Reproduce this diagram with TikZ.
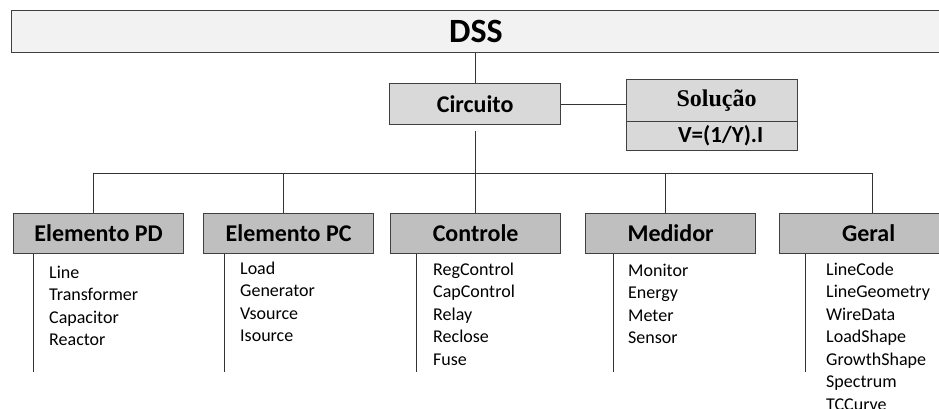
\documentclass[tikz,border=0pt]{standalone}
\usepackage{fontspec}
\setmainfont{Carlito}
\newfontfamily\titleserif{Liberation Serif}
\begin{document}
\begin{tikzpicture}[x=1pt,y=-1pt,
  frame/.style={draw=black!75, line width=1.2pt, anchor=north west, inner sep=0pt},
  link/.style={draw=black!80, line width=1pt},
  topbox/.style={frame, fill=black!5, minimum width=960pt, minimum height=42pt},
  midbox/.style={frame, fill=black!15, minimum width=171pt, minimum height=41pt,
                 font=\fontsize{24}{28}\selectfont\bfseries},
  groupbox/.style={frame, fill=black!25, minimum width=170pt, minimum height=40pt,
                   font=\fontsize{24}{28}\selectfont\bfseries},
  item/.style={anchor=base west, inner sep=0pt, font=\fontsize{18}{22}\selectfont}
]
\useasboundingbox (0,0) rectangle (939,409);
\clip (0,0) rectangle (939,409);

% top level
\node[topbox] (dss) at (11,10) {};
\node[font=\fontsize{34}{40}\selectfont\bfseries, inner sep=0pt] (dsslabel) at (476,31) {DSS};

% circuit and solution
\node[midbox] (circ) at (389,83) {Circuito};
\node[midbox, minimum height=42pt, font=\fontsize{24}{28}\titleserif\bfseries] (sol) at (626,79) {\hspace*{9pt}Solução};
\node[midbox, minimum height=29pt, font=\fontsize{23}{27}\selectfont\bfseries] (eq) at (626,121) {\hspace*{17pt}V=(1/Y).I};

\draw[link] (circ.north |- dss.south) -- (circ.north);
\draw[link] (circ.east) -- (circ.east -| sol.west);

% group boxes
\node[groupbox] (pd)  at (13,213)  {Elemento PD};
\node[groupbox] (pc)  at (203,213) {Elemento PC};
\node[groupbox] (ctl) at (390,213) {Controle};
\node[groupbox] (med) at (585,213) {Medidor};
\node[groupbox, minimum width=178pt] (ger) at (779,213) {Geral};

% bus
\coordinate (busPD)  at (93,173);
\coordinate (busPC)  at (283,173);
\coordinate (busCTL) at (circ.south |- busPD);
\coordinate (busMED) at (665,173);
\coordinate (busGER) at (872,173);
\draw[link] (busPD) -- (busGER);
\draw[link, shorten <=6pt] (circ.south) -- (busCTL);
\draw[link] (busPD)  -- (busPD  |- pd.north);
\draw[link] (busPC)  -- (busPC  |- pc.north);
\draw[link] (busCTL) -- (busCTL |- ctl.north);
\draw[link] (busMED) -- (busMED |- med.north);
\draw[link] (busGER) -- (busGER |- ger.north);

% list rails
\coordinate (endPD)  at (33,372);
\coordinate (endPC)  at (224,372);
\coordinate (endCTL) at (416,372);
\coordinate (endMED) at (613,372);
\coordinate (endGER) at (805,372);
\draw[link] (endPD  |- pd.south)  -- (endPD);
\draw[link] (endPC  |- pc.south)  -- (endPC);
\draw[link] (endCTL |- ctl.south) -- (endCTL);
\draw[link] (endMED |- med.south) -- (endMED);
\draw[link] (endGER |- ger.south) -- (endGER);

% element lists
\foreach \t [count=\i from 0] in {Line,Transformer,Capacitor,Reactor}
  \node[item] (pdi\i) at (49,278+22.5*\i) {\t};
\foreach \t [count=\i from 0] in {Load,Generator,Vsource,Isource}
  \node[item] (pci\i) at (240,274+22.5*\i) {\t};
\foreach \t [count=\i from 0] in {RegControl,CapControl,Relay,Reclose,Fuse}
  \node[item] (ctli\i) at (433,275+22.5*\i) {\t};
\foreach \t [count=\i from 0] in {Monitor,Energy,Meter,Sensor}
  \node[item] (medi\i) at (628,276+22.5*\i) {\t};
\foreach \t [count=\i from 0] in {LineCode,LineGeometry,WireData,LoadShape,GrowthShape,Spectrum,TCCurve}
  \node[item] (geri\i) at (826,275+22.5*\i) {\t};
\end{tikzpicture}
\end{document}
